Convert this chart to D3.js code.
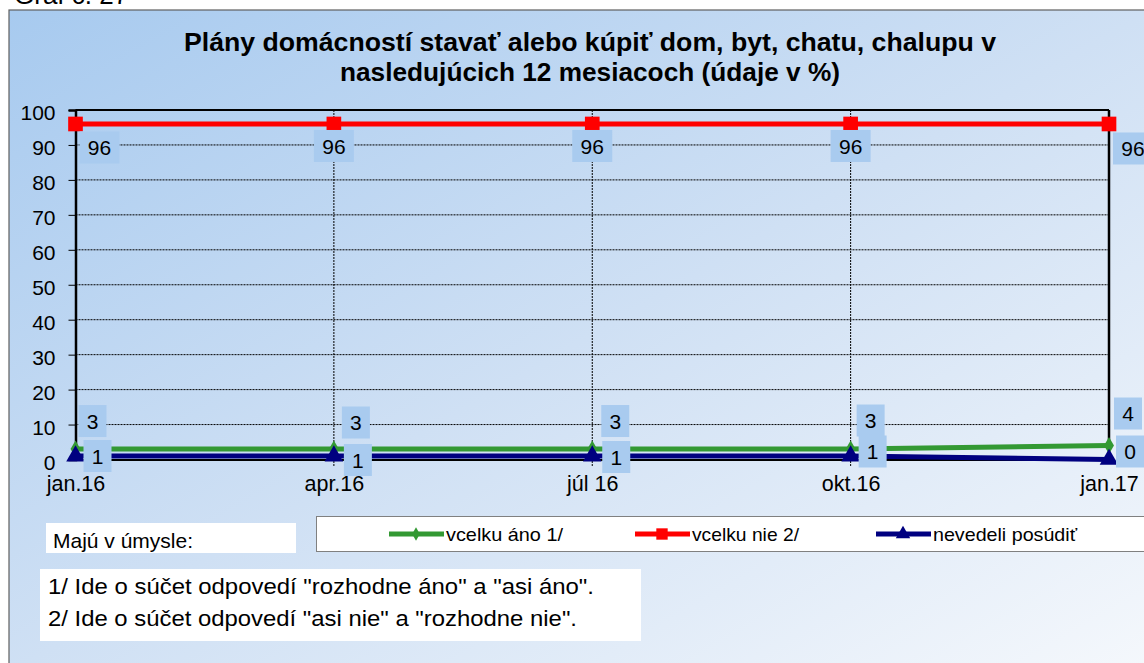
<!DOCTYPE html>
<html>
<head>
<meta charset="utf-8">
<script src="https://cdn.jsdelivr.net/npm/d3@7"></script>
<style>
  body { margin: 0; background: #fff; }
  svg { display: block; font-family: "Liberation Sans", Arial, sans-serif; }
</style>
</head>
<body>
<div id="chart"></div>
<script>
const periods = ["jan.16", "apr.16", "júl 16", "okt.16", "jan.17"];
const seriesNames = ["vcelku áno 1/", "vcelku nie 2/", "nevedeli posúdiť"];
const vcelkuAno = [3, 3, 3, 3, 4];
const vcelkuNie = [96, 96, 96, 96, 96];
const nevedeli = [1, 1, 1, 1, 0];
const yTicks = [0, 10, 20, 30, 40, 50, 60, 70, 80, 90, 100];
const titleLines = ["Plány domácností stavať alebo kúpiť dom, byt, chatu, chalupu v",
  "nasledujúcich 12 mesiacoch (údaje v %)"];
const footnotes = ["1/ Ide o súčet odpovedí \"rozhodne áno\" a \"asi áno\".",
  "2/ Ide o súčet odpovedí \"asi nie\" a \"rozhodne nie\"."];

const width = 1144, height = 663;
const svg = d3.select("#chart").append("svg")
  .attr("width", width).attr("height", height);

const grad = svg.append("defs").append("linearGradient").attr("id", "bg")
  .attr("x1", "0%").attr("y1", "0%").attr("x2", "100%").attr("y2", "100%");
grad.append("stop").attr("offset", "0%").attr("stop-color", "#a7caef");
grad.append("stop").attr("offset", "50%").attr("stop-color", "#cfe0f4");
grad.append("stop").attr("offset", "100%").attr("stop-color", "#f5f8fc");

// heading above the chart, cut by the page top
svg.append("text").attr("x", 14).attr("y", 4)
  .attr("font-size", 26).attr("fill", "#000").text("Graf č. 27");

svg.append("rect").attr("x", 9).attr("y", 10)
  .attr("width", width).attr("height", height)
  .attr("fill", "url(#bg)").attr("stroke", "#5f5f5f").attr("stroke-width", 1.2);

const titleWidths = [812, 500];
svg.selectAll(".title").data(titleLines).enter().append("text")
  .attr("x", 590).attr("y", (d, i) => 51 + i * 30)
  .attr("text-anchor", "middle").attr("font-size", 25).attr("font-weight", "bold")
  .attr("textLength", (d, i) => titleWidths[i]).attr("lengthAdjust", "spacingAndGlyphs")
  .text(d => d);

const margin = { left: 75.5, right: 35, top: 110, bottom: 203.5 };
const x = d3.scalePoint().domain(periods).range([margin.left, width - margin.right]);
const y = d3.scaleLinear().domain([0, 100]).range([height - margin.bottom, margin.top]);

// horizontal grid
svg.append("g").selectAll("line").data(yTicks.filter(t => t > 0 && t < 100)).enter()
  .append("line")
  .attr("x1", x.range()[0]).attr("x2", x.range()[1])
  .attr("y1", d => y(d)).attr("y2", d => y(d))
  .attr("stroke", "#000").attr("stroke-width", 1).attr("stroke-dasharray", "2,1");

// vertical grid
svg.append("g").selectAll("line").data(periods.slice(1, -1)).enter()
  .append("line")
  .attr("x1", d => x(d)).attr("x2", d => x(d))
  .attr("y1", y(100)).attr("y2", y(0) + 7)
  .attr("stroke", "#000").attr("stroke-width", 1).attr("stroke-dasharray", "2,1");

// y axis
const yAxis = svg.append("g").attr("transform", `translate(${margin.left},0)`)
  .call(d3.axisLeft(y).tickValues(yTicks).tickSize(7).tickPadding(13));
yAxis.select(".domain").attr("stroke", "#000").attr("stroke-width", 2.5);
yAxis.selectAll(".tick line").attr("stroke", "#000");
yAxis.selectAll(".tick text").attr("font-size", 21).attr("dy", "0.46em")
  .attr("font-family", "Liberation Sans, Arial, sans-serif").attr("fill", "#000");

// x axis
const xAxis = svg.append("g").attr("transform", `translate(0,${y(0)})`)
  .call(d3.axisBottom(x).tickSize(0).tickPadding(16));
xAxis.select(".domain").attr("stroke", "#000").attr("stroke-width", 2);
xAxis.selectAll(".tick text").attr("font-size", 21.5)
  .attr("font-family", "Liberation Sans, Arial, sans-serif").attr("fill", "#000");

// frame top and right
svg.append("line").attr("x1", x.range()[0]).attr("x2", x.range()[1])
  .attr("y1", y(100)).attr("y2", y(100)).attr("stroke", "#000").attr("stroke-width", 2);
svg.append("line").attr("x1", x.range()[1]).attr("x2", x.range()[1])
  .attr("y1", y(100)).attr("y2", y(0)).attr("stroke", "#000").attr("stroke-width", 2.5);

const series = [
  { name: seriesNames[1], values: vcelkuNie, color: "#ff0000", symbol: d3.symbolSquare, size: 215,
    labelDx: [24, 0, 0, 0, 24], labelDy: [23.5, 22, 22, 22, 24.5] },
  { name: seriesNames[0], values: vcelkuAno, color: "#339933", symbol: d3.symbolDiamond, size: 85,
    labelDx: [17, 22, 23, 20, 19], labelDy: [-28, -26.5, -28, -28.5, -32] },
  { name: seriesNames[2], values: nevedeli, color: "#000080", symbol: d3.symbolTriangle, size: 150,
    labelDx: [22, 24, 24, 22, 21], labelDy: [0, 4, 1, -4.5, -8] }
];

const line = d3.line().x((d, i) => x(periods[i])).y(d => y(d));

series.forEach(s => {
  svg.append("path").datum(s.values)
    .attr("d", line).attr("fill", "none")
    .attr("stroke", s.color).attr("stroke-width", 5);
});
series.forEach(s => {
  svg.append("g").selectAll("path").data(s.values).enter().append("path")
    .attr("transform", (d, i) => `translate(${x(periods[i])},${y(d)})`)
    .attr("d", d3.symbol().type(s.symbol).size(s.size))
    .attr("fill", s.color);
});

// data labels
series.forEach(s => {
  const g = svg.append("g").selectAll("g").data(s.values).enter().append("g")
    .attr("transform", (d, i) => `translate(${x(periods[i]) + s.labelDx[i]},${y(d) + s.labelDy[i]})`);
  g.append("rect")
    .attr("x", d => String(d).length > 1 ? -20 : -14).attr("y", -16)
    .attr("width", d => String(d).length > 1 ? 40 : 28).attr("height", 32)
    .attr("fill", "#a9cbef");
  g.append("text").attr("text-anchor", "middle").attr("dy", "0.36em")
    .attr("font-size", 21).text(d => d);
});

// "Majú v úmysle:" box
svg.append("rect").attr("x", 46).attr("y", 523).attr("width", 250).attr("height", 30).attr("fill", "#fff");
svg.append("text").attr("x", 53).attr("y", 548).attr("font-size", 21)
  .attr("textLength", 140).attr("lengthAdjust", "spacingAndGlyphs")
  .text("Majú v úmysle:");

// legend
const legend = svg.append("g");
legend.append("rect").attr("x", 316.5).attr("y", 516.5).attr("width", 840).attr("height", 35)
  .attr("fill", "#fff").attr("stroke", "#808080");
const legOrder = [series[1], series[0], series[2]];
const legendX = [389, 635, 876];
const legendTextW = [117, 107, 144];
legOrder.forEach((s, i) => {
  const lx = legendX[i], ly = 534;
  legend.append("line").attr("x1", lx).attr("x2", lx + 55).attr("y1", ly).attr("y2", ly)
    .attr("stroke", s.color).attr("stroke-width", 5);
  legend.append("path").attr("transform", `translate(${lx + 27},${ly})`)
    .attr("d", d3.symbol().type(s.symbol).size(s.size * 0.6)).attr("fill", s.color);
  legend.append("text").attr("x", lx + 57).attr("y", ly + 7).attr("font-size", 19)
    .attr("textLength", legendTextW[i]).attr("lengthAdjust", "spacingAndGlyphs")
    .text(s.name);
});

// footnotes
const footW = [546, 529];
svg.append("rect").attr("x", 40).attr("y", 569).attr("width", 601).attr("height", 72).attr("fill", "#fff");
svg.selectAll(".fn").data(footnotes).enter().append("text")
  .attr("x", 48).attr("y", (d, i) => 594 + i * 32).attr("font-size", 22)
  .attr("textLength", (d, i) => footW[i]).attr("lengthAdjust", "spacingAndGlyphs")
  .text(d => d);
</script>
</body>
</html>
